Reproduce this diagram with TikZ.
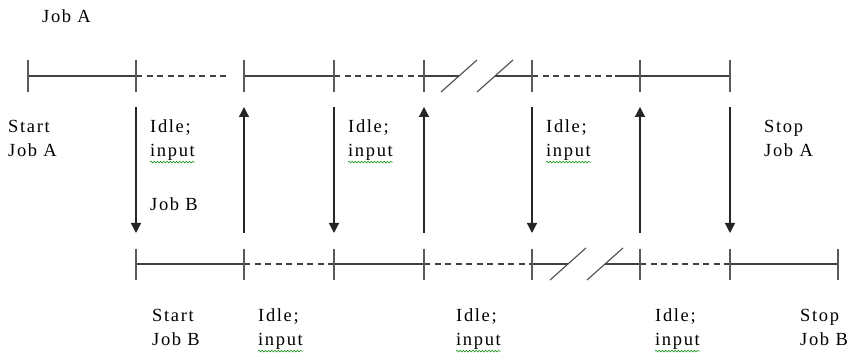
\documentclass[tikz,border=0pt]{standalone}
\usepackage{fontspec}
\setmainfont{Liberation Serif}[LetterSpace=9]
\usetikzlibrary{arrows.meta}
\usetikzlibrary{decorations.pathmorphing}

\tikzset{
  busy/.style={line width=1.2pt, black!75},
  idle/.style={busy, dash pattern=on 6pt off 4.5pt},
  tickmark/.style={line width=1.4pt, black!65},
  handover/.style={line width=1.3pt, black!85, -{Triangle[width=10pt,length=10pt]}},
  breakmark/.style={line width=1.1pt, black!70},
  lbl/.style={anchor=base west, inner sep=0pt, align=left, font=\fontsize{18.5}{24}\selectfont},
  spell/.style={green!55!black, line width=0.5pt, decorate,
                decoration={snake, amplitude=0.9pt, segment length=3.2pt}}
}

\begin{document}
\begin{tikzpicture}[x=1pt, y=-1pt]
    \useasboundingbox[fill=white] (0,0) rectangle (855,355);
    \foreach \n/\x in {1/28,2/136,3/244,4/334,5/424,6/532,7/640,8/730}
        \coordinate (a\n) at (\x,76);
    \foreach \n/\x in {1/136,2/244,3/334,4/424,5/532,6/640,7/730,8/838}
        \coordinate (b\n) at (\x,264);
    \coordinate (ia) at (230,76);
    \coordinate (ib) at (615,76);
    \coordinate (ga) at (459,76);
    \coordinate (gb) at (495,76);
    \coordinate (hc) at (568,264);
    \coordinate (hd) at (605,264);

    % job A line
    \draw [busy] (a1) -- (a2);
    \draw [idle] (a2) -- (ia);
    \draw [busy] (a3) -- (a4);
    \draw [idle] (a4) -- (a5);
    \draw [busy] (a5) -- (ga);
    \draw [busy] (gb) -- (a6);
    \draw [idle] (a6) -- (ib);
    \draw [busy] (ib) -- (a8);
    % job B line
    \draw [busy] (b1) -- (b2);
    \draw [idle] (b2) -- (b3);
    \draw [busy] (b3) -- (b4);
    \draw [idle] (b4) -- (b5);
    \draw [busy] (b5) -- (hc);
    \draw [busy] (hd) -- (b6);
    \draw [idle] (b6) -- (b7);
    \draw [busy] (b7) -- (b8);

    \foreach \n in {1,...,8} {
        \draw [tickmark] ([yshift=16pt]a\n) -- ([yshift=-16pt]a\n);
        \draw [tickmark] ([yshift=15pt]b\n) -- ([yshift=-16pt]b\n);
    }
    \foreach \g in {ga,gb,hc,hd}
        \draw [breakmark] ([shift={(-18,16)}]\g) -- ([shift={(18,-16)}]\g);

    \foreach \t/\b in {2/1,4/3,6/5,8/7}
        \draw [handover] ([yshift=-31pt]a\t) -- ([yshift=31pt]b\b);
    \foreach \t/\b in {3/2,5/4,7/6}
        \draw [handover] ([yshift=31pt]b\b) -- ([yshift=-31pt]a\t);

    \node [lbl] (jobA)   at (42,23)   {Job A};
    \node [lbl] (startA) at (8,157)   {Start\\Job A};
    \node [lbl] (idleA1) at (150,157) {Idle;\\input};
    \node [lbl] (jobB)   at (150,211) {Job B};
    \node [lbl] (idleA2) at (348,157) {Idle;\\input};
    \node [lbl] (idleA3) at (546,157) {Idle;\\input};
    \node [lbl] (stopA)  at (764,157) {Stop\\Job A};
    \node [lbl] (startB) at (152,346) {Start\\Job B};
    \node [lbl] (idleB1) at (258,346) {Idle;\\input};
    \node [lbl] (idleB2) at (456,346) {Idle;\\input};
    \node [lbl] (idleB3) at (655,346) {Idle;\\input};
    \node [lbl] (stopB)  at (800,346) {Stop\\Job B};

    \foreach \m in {idleA1,idleA2,idleA3,idleB1,idleB2,idleB3}
        \draw [spell] ([yshift=-1pt]\m.south west) -- ([yshift=-1pt]\m.south east);
\end{tikzpicture}
\end{document}
